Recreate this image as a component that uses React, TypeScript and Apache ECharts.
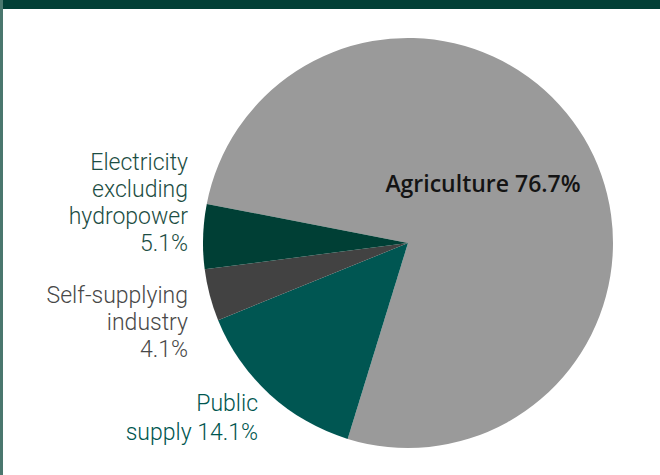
import React, { useEffect, useRef } from "react";
import * as echarts from "echarts";

const categories = [
  "Agriculture",
  "Public supply",
  "Self-supplying industry",
  "Electricity excluding hydropower",
];
const values = [76.7, 14.1, 4.1, 5.1];
const labelTexts = [
  "Agriculture 76.7%",
  "Public\nsupply 14.1%",
  "Self-supplying\nindustry\n4.1%",
  "Electricity\nexcluding\nhydropower\n5.1%",
];
const sliceColors = ["#9a9a9a", "#005652", "#424242", "#003f35"];
const labelColors = ["#141414", "#00564f", "#484848", "#1c4d43"];

const CX = 408;
const CY = 243;
const R = 205;

// label anchor positions relative to pie centre/radius
const labelAnchors = [
  { x: CX + 75, y: CY - 60, align: "center", lh: 27, fs: 23, ff: "Open Sans", fw: 600 },
  { x: CX - 150, y: CY + 175, align: "right", lh: 29, fs: 23, ff: "Roboto", fw: 300 },
  { x: CX - R - 15, y: CY + 79, align: "right", lh: 27, fs: 23, ff: "Roboto", fw: 300 },
  { x: CX - R - 15, y: CY - 40, align: "right", lh: 27, fs: 23, ff: "Roboto", fw: 300 },
];

export default function App() {
  const ref = useRef<HTMLDivElement>(null);
  useEffect(() => {
    if (!ref.current) return;
    const chart = echarts.init(ref.current, undefined, { renderer: "svg" });
    chart.setOption({
      animation: false,
      backgroundColor: "#ffffff",
      graphic: [
        { type: "rect", shape: { x: 0, y: 0, width: 660, height: 9 }, style: { fill: "#023f36" } },
        { type: "rect", shape: { x: 0, y: 0, width: 3, height: 475 }, style: { fill: "#4a776e" } },
      ],
      series: [
        {
          type: "pie",
          center: [CX, CY],
          radius: R,
          startAngle: 169,
          clockwise: true,
          silent: true,
          avoidLabelOverlap: false,
          labelLine: { show: false },
          data: categories.map((name, i) => ({
            name,
            value: values[i],
            itemStyle: { color: sliceColors[i] },
            label: {
              show: true,
              position: i === 0 ? "inside" : "outside",
              formatter: labelTexts[i],
              color: labelColors[i],
              fontFamily: labelAnchors[i].ff,
              fontSize: labelAnchors[i].fs,
              fontWeight: labelAnchors[i].fw,
              lineHeight: labelAnchors[i].lh,
              align: labelAnchors[i].align,
            },
          })),
          labelLayout: (params: any) => {
            const a = labelAnchors[params.dataIndex];
            return {
              x: a.x,
              y: a.y,
              align: a.align,
              verticalAlign: "middle",
            };
          },
        },
      ],
    });
    return () => chart.dispose();
  }, []);
  return (
    <div
      ref={ref}
      style={{ position: "fixed", left: 0, top: 0, width: 660, height: 475 }}
    />
  );
}
